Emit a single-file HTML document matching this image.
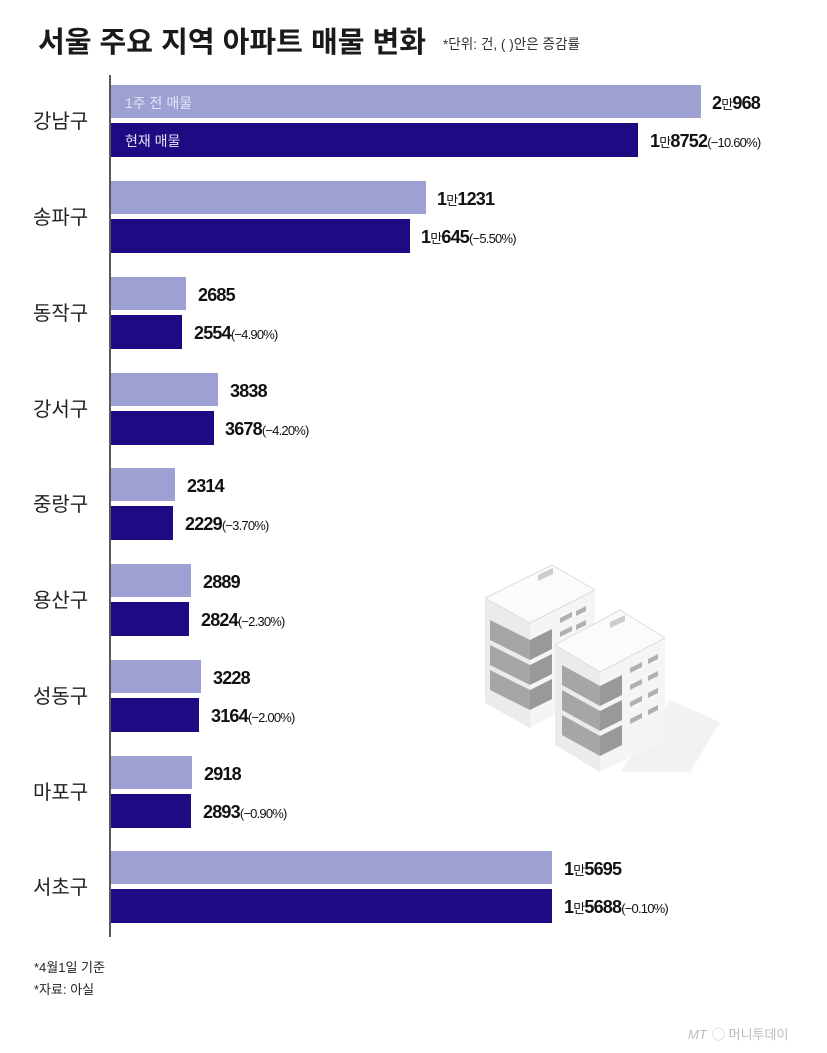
<!DOCTYPE html>
<html><head><meta charset="utf-8"><style>
body{margin:0;background:#fff;}
svg text{font-family:"Liberation Sans","Noto Sans CJK KR",sans-serif;}
</style></head><body>
<svg width="827" height="1048" viewBox="0 0 827 1048" xmlns="http://www.w3.org/2000/svg">
<rect width="827" height="1048" fill="#fff"/>
<text x="38" y="52" font-size="29" font-weight="bold" fill="#1a1a1a" font-family="Noto Sans CJK KR,sans-serif" textLength="388" lengthAdjust="spacingAndGlyphs">서울 주요 지역 아파트 매물 변화</text>
<text x="443" y="49" font-size="14" fill="#333" font-family="Noto Sans CJK KR,sans-serif" textLength="137" lengthAdjust="spacingAndGlyphs">*단위: 건, ( )안은 증감률</text>
<line x1="110" y1="75" x2="110" y2="937" stroke="#222" stroke-width="1.5"/>
<g>
<polygon points="670,700 720,722 690,772 620,772" fill="#f2f2f2"/>
<polygon points="485,598 530,623 530,728 485,703" fill="#ebebeb"/>
<polygon points="530,623 595,590 595,692 530,728" fill="#f5f5f5"/>
<polygon points="485,598 552,565 595,590 530,623" fill="#fbfbfb" stroke="#ddd"/>
<g fill="#a6a6a6">
<polygon points="490,620 530,640 530,660 490,640"/>
<polygon points="490,645 530,665 530,685 490,665"/>
<polygon points="490,670 530,690 530,710 490,690"/>
<polygon points="530,640 552,629 552,649 530,660" fill="#999"/>
<polygon points="530,665 552,654 552,674 530,685" fill="#999"/>
<polygon points="530,690 552,679 552,699 530,710" fill="#999"/>
</g>
<polygon points="555,645 600,672 600,772 555,745" fill="#ebebeb"/>
<polygon points="600,672 665,638 665,740 600,772" fill="#f5f5f5"/>
<polygon points="555,645 620,610 665,638 600,672" fill="#fbfbfb" stroke="#ddd"/>
<g fill="#a6a6a6">
<polygon points="562,665 600,686 600,706 562,685"/>
<polygon points="562,690 600,711 600,731 562,710"/>
<polygon points="562,715 600,736 600,756 562,735"/>
<polygon points="600,686 622,675 622,695 600,706" fill="#999"/>
<polygon points="600,711 622,700 622,720 600,731" fill="#999"/>
<polygon points="600,736 622,725 622,745 600,756" fill="#999"/>
</g>
<g fill="#b0b0b0">
<polygon points="630,668 642,662 642,667 630,673"/><polygon points="648,659 658,654 658,659 648,664"/>
<polygon points="630,685 642,679 642,684 630,690"/><polygon points="648,676 658,671 658,676 648,681"/>
<polygon points="630,702 642,696 642,701 630,707"/><polygon points="648,693 658,688 658,693 648,698"/>
<polygon points="630,719 642,713 642,718 630,724"/><polygon points="648,710 658,705 658,710 648,715"/>
<polygon points="560,618 572,612 572,617 560,623"/><polygon points="576,611 586,606 586,611 576,616"/>
<polygon points="560,632 572,626 572,631 560,637"/><polygon points="576,625 586,620 586,625 576,630"/>
<polygon points="610,622 625,615 625,621 610,628" fill="#ccc"/>
<polygon points="538,575 553,568 553,574 538,581" fill="#ccc"/>
</g>
</g>
<g font-size="20" fill="#222" font-family="Noto Sans CJK KR,sans-serif">
<text x="33" y="128">강남구</text><text x="33" y="224">송파구</text><text x="33" y="320">동작구</text>
<text x="33" y="416">강서구</text><text x="33" y="511">중랑구</text><text x="33" y="607">용산구</text>
<text x="33" y="703">성동구</text><text x="33" y="799">마포구</text><text x="33" y="894">서초구</text>
</g>
<g>
<rect x="111" y="85" width="590" height="33" fill="#9e9fd2"/><rect x="111" y="123" width="527" height="34" fill="#1e0a82"/>
<rect x="111" y="181" width="315" height="33" fill="#9e9fd2"/><rect x="111" y="219" width="299" height="34" fill="#1e0a82"/>
<rect x="111" y="277" width="75" height="33" fill="#9e9fd2"/><rect x="111" y="315" width="71" height="34" fill="#1e0a82"/>
<rect x="111" y="373" width="107" height="33" fill="#9e9fd2"/><rect x="111" y="411" width="103" height="34" fill="#1e0a82"/>
<rect x="111" y="468" width="64" height="33" fill="#9e9fd2"/><rect x="111" y="506" width="62" height="34" fill="#1e0a82"/>
<rect x="111" y="564" width="80" height="33" fill="#9e9fd2"/><rect x="111" y="602" width="78" height="34" fill="#1e0a82"/>
<rect x="111" y="660" width="90" height="33" fill="#9e9fd2"/><rect x="111" y="698" width="88" height="34" fill="#1e0a82"/>
<rect x="111" y="756" width="81" height="33" fill="#9e9fd2"/><rect x="111" y="794" width="80" height="34" fill="#1e0a82"/>
<rect x="111" y="851" width="441" height="33" fill="#9e9fd2"/><rect x="111" y="889" width="441" height="34" fill="#1e0a82"/>
</g>
<text x="125" y="108" font-size="14" fill="#e4e4f4" font-family="Noto Sans CJK KR,sans-serif">1주 전 매물</text>
<text x="125" y="146" font-size="14" fill="#e4e4f4" font-family="Noto Sans CJK KR,sans-serif">현재 매물</text>
<g font-size="18" font-weight="bold" fill="#111" letter-spacing="-0.8">
<text x="712" y="109">2<tspan font-size="13" font-weight="normal">만</tspan>968</text>
<text x="650" y="147">1<tspan font-size="13" font-weight="normal">만</tspan>8752<tspan font-size="13" font-weight="normal">(−10.60%)</tspan></text>
<text x="437" y="205">1<tspan font-size="13" font-weight="normal">만</tspan>1231</text>
<text x="421" y="243">1<tspan font-size="13" font-weight="normal">만</tspan>645<tspan font-size="13" font-weight="normal">(−5.50%)</tspan></text>
<text x="198" y="301">2685</text>
<text x="194" y="339">2554<tspan font-size="13" font-weight="normal">(−4.90%)</tspan></text>
<text x="230" y="397">3838</text>
<text x="225" y="435">3678<tspan font-size="13" font-weight="normal">(−4.20%)</tspan></text>
<text x="187" y="492">2314</text>
<text x="185" y="530">2229<tspan font-size="13" font-weight="normal">(−3.70%)</tspan></text>
<text x="203" y="588">2889</text>
<text x="201" y="626">2824<tspan font-size="13" font-weight="normal">(−2.30%)</tspan></text>
<text x="213" y="684">3228</text>
<text x="211" y="722">3164<tspan font-size="13" font-weight="normal">(−2.00%)</tspan></text>
<text x="204" y="780">2918</text>
<text x="203" y="818">2893<tspan font-size="13" font-weight="normal">(−0.90%)</tspan></text>
<text x="564" y="875">1<tspan font-size="13" font-weight="normal">만</tspan>5695</text>
<text x="564" y="913">1<tspan font-size="13" font-weight="normal">만</tspan>5688<tspan font-size="13" font-weight="normal">(−0.10%)</tspan></text>
</g>
<text x="34" y="972" font-size="13" fill="#222" font-family="Noto Sans CJK KR,sans-serif">*4월1일 기준</text>
<text x="34" y="994" font-size="13" fill="#222" font-family="Noto Sans CJK KR,sans-serif">*자료: 아실</text>
<text x="688" y="1039" font-size="13" fill="#bbb" font-style="italic" font-family="Noto Sans CJK KR,sans-serif">MT</text>
<text x="712" y="1039" font-size="13" fill="#bbb" font-family="Noto Sans CJK KR,sans-serif">◯ 머니투데이</text>
</svg>
</body></html>
